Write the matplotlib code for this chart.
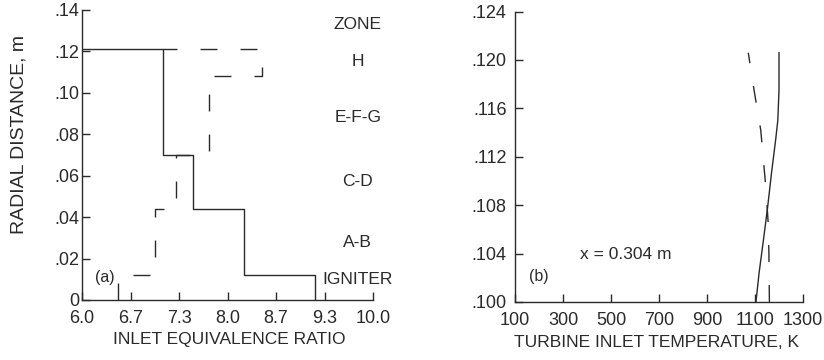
import matplotlib
matplotlib.use("Agg")
import matplotlib.pyplot as plt

plt.rcParams["font.family"] = ["Liberation Sans", "DejaVu Sans"]

# ---- data: panel (a) ----
solid_a_x = [6.0, 7.11, 7.11, 7.52, 7.52, 8.23, 8.23, 9.20, 9.20]
solid_a_y = [0.121, 0.121, 0.070, 0.070, 0.044, 0.044, 0.012, 0.012, 0.0]
dash_a_x = [6.5, 6.5, 7.0, 7.0, 7.29, 7.29, 7.75, 7.75, 8.47, 8.47, 7.11]
dash_a_y = [0.0, 0.012, 0.012, 0.044, 0.044, 0.070, 0.070, 0.108, 0.108, 0.121, 0.121]
xticks_a = [6.0, 6.0 + 2 / 3, 7.0 + 1 / 3, 8.0, 8.0 + 2 / 3, 9.0 + 1 / 3, 10.0]
xticklabels_a = ["6.0", "6.7", "7.3", "8.0", "8.7", "9.3", "10.0"]
yticks_a = [0, 0.02, 0.04, 0.06, 0.08, 0.10, 0.12, 0.14]
yticklabels_a = ["0", ".02", ".04", ".06", ".08", ".10", ".12", ".14"]
zones = ["ZONE", "H", "E-F-G", "C-D", "A-B", "IGNITER"]
zone_y = [0.133, 0.115, 0.088, 0.057, 0.028, 0.0097]

# ---- data: panel (b) ----
solid_b_T = [1104, 1117, 1135, 1153, 1169, 1186, 1195, 1200, 1200]
solid_b_r = [0.1000, 0.1024, 0.1051, 0.1079, 0.1107, 0.1134, 0.1150, 0.1175, 0.1206]
dash_b_T = [1160, 1158, 1155, 1145, 1124, 1097, 1072]
dash_b_r = [0.1000, 0.1040, 0.1065, 0.1095, 0.1142, 0.1174, 0.1206]
xticks_b = [100, 300, 500, 700, 900, 1100, 1300]
yticks_b = [0.100, 0.104, 0.108, 0.112, 0.116, 0.120, 0.124]
yticklabels_b = [".100", ".104", ".108", ".112", ".116", ".120", ".124"]

INK = "#2a2a2a"
FS_TICK = 13
FS = 12.5
DASH = (12.2, 16.6)

fig = plt.figure(figsize=(8.24, 3.60), dpi=100)
ax1 = fig.add_axes([82 / 824, 1 - 300 / 360, (373 - 82) / 824, (300 - 10) / 360])
ax2 = fig.add_axes([515 / 824, 1 - 302 / 360, (803 - 515) / 824, (302 - 11.6) / 360])

for ax in (ax1, ax2):
    ax.spines["top"].set_visible(False)
    ax.spines["right"].set_visible(False)
    for s in ("left", "bottom"):
        ax.spines[s].set_color(INK)
        ax.spines[s].set_linewidth(1.0)
    ax.tick_params(direction="in", length=6, width=1.0, color=INK,
                   labelsize=FS_TICK, labelcolor=INK)
    ax.tick_params(axis="x", pad=7)

ax1.tick_params(axis="y", pad=2)
ax2.tick_params(axis="y", pad=6)

# panel (a)
ax1.plot(solid_a_x, solid_a_y, color=INK, lw=1.0)
ax1.plot(dash_a_x, dash_a_y, color=INK, lw=1.0, dashes=DASH)
ax1.set_xlim(6.0, 10.0)
ax1.set_ylim(0, 0.14)
ax1.set_xticks(xticks_a)
ax1.set_xticklabels(xticklabels_a)
ax1.set_yticks(yticks_a)
ax1.set_yticklabels(yticklabels_a)
ax1.set_xlabel("INLET EQUIVALENCE RATIO", fontsize=FS, color=INK)
ax1.xaxis.set_label_coords(0.505, -0.112)
ax1.set_ylabel("RADIAL DISTANCE, m", fontsize=14, color=INK)
ax1.yaxis.set_label_coords(-0.189, 0.569)
for z, zy in zip(zones, zone_y):
    ax1.text(9.79, zy, z, ha="center", va="center", fontsize=FS, color=INK, clip_on=False)
ax1.text(6.31, 0.0111, "(a)", ha="center", va="center", fontsize=FS - 1, color=INK)

# panel (b)
ax2.plot(solid_b_T, solid_b_r, color=INK, lw=1.0)
ax2.plot(dash_b_T, dash_b_r, color=INK, lw=1.0, dashes=DASH)
ax2.set_xlim(100, 1300)
ax2.set_ylim(0.100, 0.124)
ax2.set_xticks(xticks_b)
ax2.set_yticks(yticks_b)
ax2.set_yticklabels(yticklabels_b)
ax2.set_xlabel("TURBINE INLET TEMPERATURE, K", fontsize=FS, color=INK)
ax2.xaxis.set_label_coords(0.493, -0.112)
ax2.text(200, 0.1021, "(b)", ha="center", va="center", fontsize=FS - 1, color=INK)
ax2.text(562, 0.1039, "x = 0.304 m", ha="center", va="center", fontsize=FS, color=INK)

fig.savefig("out.png", dpi=100, facecolor="white")
